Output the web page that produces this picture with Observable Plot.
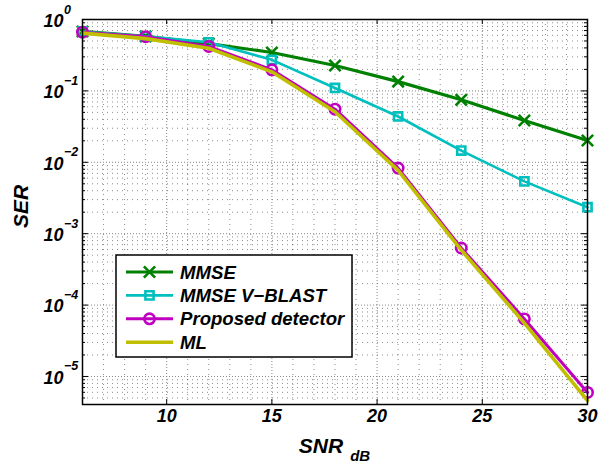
<!DOCTYPE html>
<html><head><meta charset="utf-8">
<script src="https://cdn.jsdelivr.net/npm/d3@7"></script>
<script src="https://cdn.jsdelivr.net/npm/@observablehq/plot@0.6"></script>
<style>
body{margin:0;background:#fff;}
#wrap{position:relative;width:599px;height:463px;overflow:hidden;}
#wrap svg{position:absolute;left:0;top:0;}
</style></head><body><div id="wrap"></div>
<script>
// ---- data ----
const snr = [6, 9, 12, 15, 18, 21, 24, 27, 30];
const serMMSE     = [0.68, 0.58, 0.46, 0.345, 0.227, 0.135, 0.075, 0.0385, 0.0202];
const serVBLAST   = [0.68, 0.58, 0.48, 0.272, 0.110, 0.0438, 0.0146, 0.0054, 0.00235];
const serProposed = [0.665, 0.575, 0.42, 0.197, 0.0554, 0.0083, 6.3e-4, 6.4e-5, 5.97e-6];
const serML       = [0.645, 0.54, 0.395, 0.185, 0.051, 0.0077, 5.9e-4, 5.6e-5, 4.6e-6];
const seriesNames = ["MMSE", "MMSE V\u2212BLAST", "Proposed detector", "ML"];
const xTicks = [10, 15, 20, 25, 30];
const yDecades = [1e0, 1e-1, 1e-2, 1e-3, 1e-4, 1e-5];
const yExponents = ["0", "\u22121", "\u22122", "\u22123", "\u22124", "\u22125"];
const xLabel = "SNR", xLabelSub = "dB", yLabel = "SER";

// ---- styles ----
const colors = ["#008000", "#00BFBF", "#BF00BF", "#BFBF00"];
const symbols = ["times", "square", "circle", null];
const lineWidths = [3.2, 2.6, 3, 3.6];
const W = 599, H = 463, mT = 19, mB = 59, mL = 82, mR = 12;
const plotW = W - mL - mR, plotH = H - mT - mB;
const FONT = "'Liberation Sans', Arial, Helvetica, sans-serif";

const allSeries = [serMMSE, serVBLAST, serProposed, serML];
const table = [];
allSeries.forEach((vals, i) => snr.forEach((x, j) => table.push({snr: x, ser: vals[j], series: seriesNames[i]})));

// grid positions
const xMinor = d3.range(7, 30).filter(v => v % 5 !== 0);
const xMajor = xTicks.filter(v => v < 30);
const yMinor = [];
for (let k = -6; k <= -1; k++) for (let m = 2; m <= 9; m++) { const v = m * Math.pow(10, k); if (v >= 4.05e-6) yMinor.push(v); }
const yMajor = yDecades.filter(v => v < 1);

const symR = {times: 5.2, square: 4.6, circle: 5.2};
const seriesMarks = seriesNames.flatMap((name, i) => {
  const data = table.filter(d => d.series === name);
  const m = [Plot.line(data, {x: "snr", y: "ser", stroke: colors[i], strokeWidth: lineWidths[i]})];
  if (symbols[i]) m.push(Plot.dot(data, {x: "snr", y: "ser", symbol: symbols[i], stroke: colors[i], fill: "none",
    r: symR[symbols[i]], strokeWidth: 2.6}));
  return m;
});

const txt = {fontFamily: FONT, fontWeight: "bold", fontStyle: "italic", fill: "#000"};

const chart = Plot.plot({
  width: W, height: H, marginTop: mT, marginBottom: mB, marginLeft: mL, marginRight: mR,
  style: {background: "#fff"},
  x: {domain: [6, 30], axis: null},
  y: {type: "log", domain: [4.05e-6, 1], axis: null},
  marks: [
    Plot.ruleX(xMinor, {x: d => d, stroke: "#000", strokeOpacity: 0.45, strokeDasharray: "1,4"}),
    Plot.ruleY(yMinor, {y: d => d, stroke: "#000", strokeOpacity: 0.45, strokeDasharray: "1,4"}),
    Plot.ruleX(xMajor, {x: d => d, stroke: "#888", strokeDasharray: "1,2"}),
    Plot.ruleY(yMajor, {y: d => d, stroke: "#888", strokeDasharray: "1,2"}),
    // ticks (inward)
    Plot.tickX(xTicks, {x: d => d, insetTop: plotH - 5, stroke: "#000"}),
    Plot.tickX(xTicks, {x: d => d, insetBottom: plotH - 5, stroke: "#000"}),
    Plot.tickY(yDecades, {y: d => d, insetRight: plotW - 6, stroke: "#000"}),
    Plot.tickY(yDecades, {y: d => d, insetLeft: plotW - 6, stroke: "#000"}),
    Plot.tickY(yMinor, {y: d => d, insetRight: plotW - 3, stroke: "#000"}),
    Plot.tickY(yMinor, {y: d => d, insetLeft: plotW - 3, stroke: "#000"}),
    ...seriesMarks,
    Plot.frame({stroke: "#000", strokeWidth: 1.5}),
    // tick labels
    Plot.text(xTicks, {x: d => d, frameAnchor: "bottom", dy: 17, text: d => String(d), fontSize: 18, ...txt}),
    Plot.text(yDecades, {y: d => d, frameAnchor: "left", dx: -19, dy: 1.5, text: () => "10", textAnchor: "end", fontSize: 18, ...txt}),
    Plot.text(yDecades, {y: d => d, frameAnchor: "left", dx: -18.5, dy: -10, text: (d, i) => yExponents[i], textAnchor: "start", fontSize: 12.5, ...txt})
  ]
});
document.getElementById("wrap").appendChild(chart);

// axis labels
const svg = d3.select(chart);
const xl = svg.append("text").attr("x", mL + plotW / 2).attr("y", 453).attr("text-anchor", "middle")
  .style("font-family", FONT).style("font-weight", "bold").style("font-style", "italic").style("font-size", "21px");
xl.append("tspan").text(xLabel);
xl.append("tspan").attr("dx", 7).attr("dy", 8).style("font-size", "15px").text(xLabelSub);
svg.append("text").attr("transform", `translate(28,${mT + plotH / 2 - 5}) rotate(-90)`).attr("text-anchor", "middle")
  .style("font-family", FONT).style("font-weight", "bold").style("font-style", "italic").style("font-size", "21px").text(yLabel);

// legend
const lg = d3.select("#wrap").append("svg").attr("width", 238).attr("height", 104)
  .style("left", "115px").style("top", "254px");
lg.append("rect").attr("x", 1).attr("y", 1).attr("width", 236).attr("height", 102).attr("fill", "#fff").attr("stroke", "#000").attr("stroke-width", 1.5);
seriesNames.forEach((name, i) => {
  const y = 18 + i * 23.4;
  lg.append("line").attr("x1", 11).attr("x2", 58).attr("y1", y).attr("y2", y).attr("stroke", colors[i]).attr("stroke-width", lineWidths[i]);
  if (symbols[i]) {
    const sym = {times: d3.symbolTimes, square: d3.symbolSquare, circle: d3.symbolCircle}[symbols[i]];
    const r = symR[symbols[i]];
    lg.append("path").attr("d", d3.symbol(sym, r * r * Math.PI)()).attr("transform", `translate(34.5,${y})`)
      .attr("fill", "none").attr("stroke", colors[i]).attr("stroke-width", 2.6);
  }
  lg.append("text").attr("x", 65).attr("y", y).attr("dy", "0.36em").text(name)
    .style("font-family", FONT).style("font-weight", "bold").style("font-style", "italic").style("font-size", "18.6px");
});
</script></body></html>
